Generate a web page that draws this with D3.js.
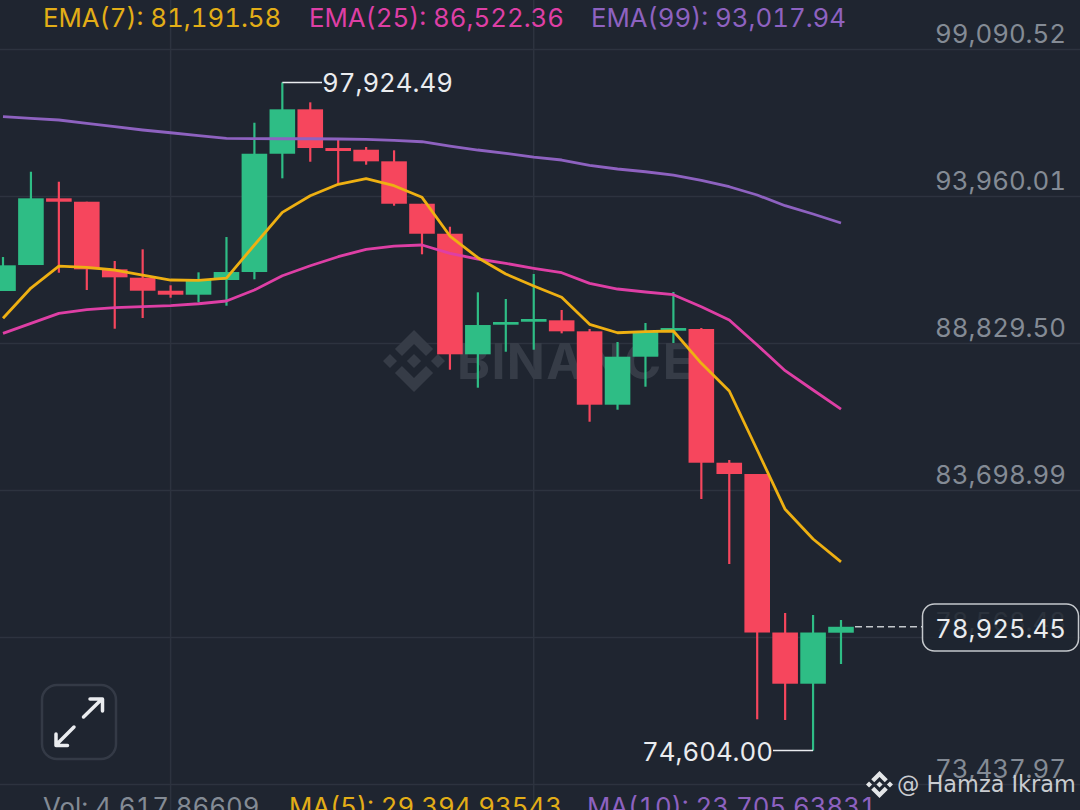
<!DOCTYPE html>
<html>
<head>
<meta charset="utf-8">
<script src="https://cdn.jsdelivr.net/npm/d3@7"></script>
<style>
  html, body { margin: 0; padding: 0; background: #1f2530; overflow: hidden; }
  text { font-family: Inter, "Open Sans", sans-serif; font-variant-numeric: tabular-nums; }
</style>
</head>
<body>
<div id="chart"></div>
<script>
// Candle values
const opens  = [90644, 91551, 93879, 93760, 91401, 91108, 90654, 90515, 91028, 91307, 95435, 96985, 95634, 95575, 95170, 93690, 92643, 88435, 89468, 89572, 89621, 89237, 86676, 88351, 89258, 89318, 84651, 84257, 78725, 76938, 78718];
const highs  = [91830, 94807, 94458, 93760, 91691, 92099, 90843, 91296, 92528, 96517, 97924.49, 97229, 95914, 95669, 95554, 93690, 92888, 90598, 90365, 91237, 89981, 89318, 88864, 89527, 90609, 89352, 84746, 84257, 79406, 79336, 79162];
const lows   = [90644, 91551, 91282, 90679, 89328, 89701, 90410, 90249, 90131, 91052, 94577, 95156, 94378, 95052, 93621, 91925, 87897, 87269, 88525, 88595, 89167, 86082, 86501, 87304, 88829, 83385, 81116, 75696, 75672, 74604, 77626];
const closes = [91541, 93879, 93760, 91401, 91122, 90654, 90515, 91028, 91307, 95435, 96985, 95634, 95530, 95170, 93690, 92643, 88435, 89457, 89562, 89667, 89237, 86676, 88351, 89223, 89352, 84651, 84257, 78725, 76938, 78725, 78925.45];

// Moving averages, one value per candle
const ema7  = [89691, 90748, 91516, 91471, 91377, 91202, 91028, 91017, 91097, 92249, 93390, 93970, 94368, 94563, 94319, 93914, 92563, 91806, 91237, 90818, 90424, 89482, 89188, 89223, 89248, 88120, 87154, 85095, 83025, 81989, 81191.58];
const ema25 = [89167, 89516, 89865, 89991, 90061, 90096, 90131, 90200, 90295, 90679, 91178, 91527, 91841, 92099, 92214, 92249, 91959, 91761, 91610, 91436, 91282, 90912, 90714, 90609, 90515, 90096, 89632, 88759, 87862, 87189, 86522.36];
const ema99 = [96727, 96671, 96612, 96496, 96378, 96263, 96168, 96064, 95973, 95959, 95959, 95959, 95949, 95938, 95903, 95854, 95704, 95565, 95449, 95320, 95216, 95031, 94902, 94807, 94692, 94507, 94284, 93994, 93621, 93331, 93017.94];

// Axis
const priceTicks = [73437.97, 78568.48, 83698.99, 88829.50, 93960.01, 99090.52];
const timeTicks = [6, 19];
const lastPrice = 78925.45;
const highPrice = 97924.49;
const highIndex = 10;
const lowPrice = 74604.00;
const lowIndex = 29;

const width = 1080;
const height = 810;
const green = "#2ebd85";
const red = "#f6465d";
const gridColor = "#2d333f";
const textSize = 25.8;
const fmt = d3.format(",.2f");

const x = d3.scaleLinear().domain([0, 30]).range([3, 841]);
const y = d3.scaleLinear().domain([73437.97, 99090.52]).range([784, 49]);

const svg = d3.select("#chart").append("svg")
    .attr("width", width)
    .attr("height", height)
    .style("display", "block");

svg.append("rect").attr("width", width).attr("height", height).attr("fill", "#1f2530");

// Vertical grid
svg.append("g").selectAll("line")
    .data(timeTicks)
    .join("line")
    .attr("x1", d => x(d)).attr("x2", d => x(d))
    .attr("y1", 0).attr("y2", height)
    .attr("stroke", gridColor)
    .attr("stroke-width", 1.5);

// Horizontal grid and price labels
const axis = svg.append("g")
    .attr("transform", `translate(${width},0)`)
    .call(d3.axisLeft(y).tickValues(priceTicks).tickSize(width).tickFormat(fmt));
axis.select(".domain").remove();
axis.selectAll("line").attr("stroke", gridColor).attr("stroke-width", 1.5);
axis.selectAll("text")
    .attr("x", -14)
    .attr("dy", "-0.24em")
    .attr("fill", "#848b95")
    .style("font-family", "Inter, sans-serif")
    .style("font-size", textSize + "px");

// Binance logo shape, viewBox 126.6 wide
const logoPath = "M38.73 53.2l24.59-24.58 24.6 24.6 14.3-14.31L63.32 0 24.43 38.9zM0 63.31l14.3-14.31 14.31 14.31-14.31 14.3zM38.73 73.41l24.59 24.59 24.6-24.6 14.31 14.29-38.9 38.91-38.91-38.88-.02-.02zM98 63.31l14.3-14.31 14.31 14.3-14.31 14.32zM77.83 63.3L63.32 48.78 52.59 59.51l-1.24 1.23-2.54 2.54 14.51 14.5 14.51-14.47z";

// Watermark behind the candles
svg.append("path")
    .attr("d", logoPath)
    .attr("transform", `translate(383,330) scale(${62 / 126.6})`)
    .attr("fill", "#363c47");
svg.append("text")
    .attr("x", 457).attr("y", 379)
    .attr("fill", "#363c47")
    .attr("font-size", 50)
    .attr("font-weight", 700)
    .attr("textLength", 236)
    .text("BINANCE");

// Candles
const candles = d3.range(opens.length);
const candleColor = i => closes[i] >= opens[i] && i !== 20 ? green : red;

svg.append("g").selectAll("line")
    .data(candles)
    .join("line")
    .attr("x1", i => x(i)).attr("x2", i => x(i))
    .attr("y1", i => y(highs[i])).attr("y2", i => y(lows[i]))
    .attr("stroke", candleColor)
    .attr("stroke-width", 2.2);

svg.append("g").selectAll("rect")
    .data(candles)
    .join("rect")
    .attr("x", i => x(i) - 12.8)
    .attr("width", 25.6)
    .attr("y", i => y(Math.max(opens[i], closes[i])))
    .attr("height", i => Math.abs(y(opens[i]) - y(closes[i])))
    .attr("fill", candleColor);

// EMA lines
const line = d3.line().x((d, i) => x(i)).y(d => y(d));
const emaSeries = [[ema99, "#8e62c0"], [ema25, "#de3fa5"], [ema7, "#eeb012"]];
svg.append("g").selectAll("path")
    .data(emaSeries)
    .join("path")
    .attr("d", d => line(d[0]))
    .attr("fill", "none")
    .attr("stroke", d => d[1])
    .attr("stroke-width", 2.8)
    .attr("stroke-linejoin", "round");

// High and low markers
svg.append("line")
    .attr("x1", x(highIndex)).attr("x2", 322)
    .attr("y1", y(highPrice)).attr("y2", y(highPrice))
    .attr("stroke", "#eaecef").attr("stroke-width", 1.5);
svg.append("text")
    .attr("x", 322).attr("y", 92)
    .attr("fill", "#eaecef").attr("font-size", textSize)
    .text(fmt(highPrice));
svg.append("line")
    .attr("x1", 773).attr("x2", x(lowIndex))
    .attr("y1", y(lowPrice)).attr("y2", y(lowPrice))
    .attr("stroke", "#eaecef").attr("stroke-width", 1.5);
svg.append("text")
    .attr("x", 773).attr("y", 761)
    .attr("text-anchor", "end")
    .attr("fill", "#eaecef").attr("font-size", textSize)
    .text(fmt(lowPrice));

// Last price tag
svg.append("line")
    .attr("x1", 855).attr("x2", 922)
    .attr("y1", y(lastPrice)).attr("y2", y(lastPrice))
    .attr("stroke", "#c4c8cc").attr("stroke-width", 1.4)
    .attr("stroke-dasharray", "7 4");
svg.append("rect")
    .attr("x", 922.5).attr("y", 604)
    .attr("width", 156).attr("height", 47)
    .attr("rx", 12)
    .attr("fill", "#1f2530").attr("fill-opacity", 0.88)
    .attr("stroke", "#c4c8cc").attr("stroke-width", 1.5);
svg.append("text")
    .attr("x", 1066).attr("y", 638)
    .attr("text-anchor", "end")
    .attr("fill", "#eaecef").attr("font-size", textSize)
    .text(fmt(lastPrice));

// Legends
const topLegend = [["EMA(7): 81,191.58", 43, "#e3ae17"], ["EMA(25): 86,522.36", 309, "#de3fa5"], ["EMA(99): 93,017.94", 591, "#8e62c0"]];
const bottomLegend = [["Vol: 4,617.86609", 43, "#848b95"], ["MA(5): 29,394.93543", 289, "#e3ae17"], ["MA(10): 23,705.63831", 587, "#8e62c0"]];
svg.append("g").selectAll("text")
    .data(topLegend)
    .join("text")
    .attr("x", d => d[1]).attr("y", 27)
    .attr("fill", d => d[2]).attr("font-size", textSize)
    .text(d => d[0]);
svg.append("g").selectAll("text")
    .data(bottomLegend)
    .join("text")
    .attr("x", d => d[1]).attr("y", 816)
    .attr("fill", d => d[2]).attr("font-size", textSize)
    .text(d => d[0]);

// Expand button
const button = svg.append("g");
button.append("rect")
    .attr("x", 42).attr("y", 685)
    .attr("width", 74).attr("height", 74)
    .attr("rx", 15)
    .attr("fill", "none")
    .attr("stroke", "#343a46").attr("stroke-width", 2.5);
button.append("path")
    .attr("d", "M83.5 717L102 699M90 699H102.5V711M74 727L56 745M56 734V745.5H67.5")
    .attr("fill", "none")
    .attr("stroke", "#eaecef").attr("stroke-width", 3.5)
    .attr("stroke-linecap", "round").attr("stroke-linejoin", "round");

// Author stamp
svg.append("path")
    .attr("d", logoPath)
    .attr("transform", `translate(866,771) scale(${27 / 126.6})`)
    .attr("fill", "#e4e6e8");
svg.append("text")
    .attr("x", 897).attr("y", 792)
    .attr("fill", "#c9ccd0")
    .attr("font-size", 22.4)
    .style("font-family", "'DejaVu Sans', sans-serif")
    .text("@ Hamza Ikram");
</script>
</body>
</html>
